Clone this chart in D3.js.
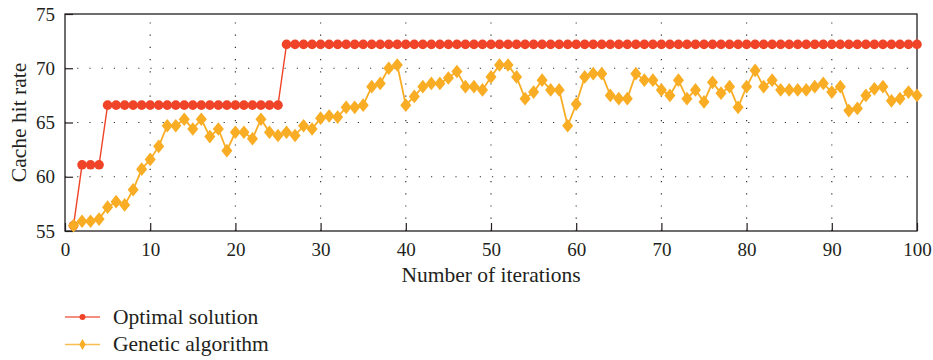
<!DOCTYPE html>
<html>
<head>
<meta charset="utf-8">
<script src="https://cdn.jsdelivr.net/npm/d3@7"></script>
<style>
  body { margin: 0; background: #fff; }
</style>
</head>
<body>
<div class="chart"></div>
<script>
// values
const optimal = [
  55.5, 61.1, 61.1, 61.1, 66.6, 66.6, 66.6, 66.6, 66.6, 66.6,
  66.6, 66.6, 66.6, 66.6, 66.6, 66.6, 66.6, 66.6, 66.6, 66.6,
  66.6, 66.6, 66.6, 66.6, 66.6, 72.2, 72.2, 72.2, 72.2, 72.2,
  72.2, 72.2, 72.2, 72.2, 72.2, 72.2, 72.2, 72.2, 72.2, 72.2,
  72.2, 72.2, 72.2, 72.2, 72.2, 72.2, 72.2, 72.2, 72.2, 72.2,
  72.2, 72.2, 72.2, 72.2, 72.2, 72.2, 72.2, 72.2, 72.2, 72.2,
  72.2, 72.2, 72.2, 72.2, 72.2, 72.2, 72.2, 72.2, 72.2, 72.2,
  72.2, 72.2, 72.2, 72.2, 72.2, 72.2, 72.2, 72.2, 72.2, 72.2,
  72.2, 72.2, 72.2, 72.2, 72.2, 72.2, 72.2, 72.2, 72.2, 72.2,
  72.2, 72.2, 72.2, 72.2, 72.2, 72.2, 72.2, 72.2, 72.2, 72.2
];
const genetic = [
  55.5, 55.9, 55.9, 56.1, 57.2, 57.7, 57.4, 58.8, 60.7, 61.6,
  62.8, 64.7, 64.7, 65.3, 64.4, 65.3, 63.7, 64.4, 62.4, 64.1,
  64.1, 63.5, 65.3, 64.1, 63.8, 64.1, 63.8, 64.7, 64.4, 65.4,
  65.6, 65.5, 66.4, 66.4, 66.6, 68.3, 68.6, 70.0, 70.3, 66.6,
  67.4, 68.3, 68.6, 68.6, 69.1, 69.7, 68.3, 68.3, 68.0, 69.2,
  70.3, 70.3, 69.2, 67.2, 67.8, 68.9, 68.0, 68.0, 64.7, 66.7,
  69.2, 69.5, 69.5, 67.5, 67.2, 67.2, 69.5, 68.9, 68.9, 68.0,
  67.5, 68.9, 67.2, 68.0, 66.9, 68.7, 67.7, 68.3, 66.4, 68.3,
  69.8, 68.3, 68.9, 68.0, 68.0, 68.0, 68.0, 68.3, 68.6, 67.8,
  68.3, 66.1, 66.3, 67.5, 68.1, 68.3, 67.0, 67.2, 67.8, 67.5
];
const xTicks = [0, 10, 20, 30, 40, 50, 60, 70, 80, 90, 100];
const yTicks = [55, 60, 65, 70, 75];
const seriesNames = ["Optimal solution", "Genetic algorithm"];
const colors = ["#ef4428", "#f9ad24"];

const serif = '"Liberation Serif"';
const ink = "#231f20";

const width = 933;
const height = 360;
const margin = {top: 14, right: 16, bottom: 129, left: 65};

const svg = d3.select(".chart")
    .append("svg")
    .attr("width", width)
    .attr("height", height);

const x = d3.scaleLinear().domain([0, 100]).range([margin.left, width - margin.right]);
const y = d3.scaleLinear().domain([55, 75]).range([height - margin.bottom, margin.top]);

// dotted grid
const grid = svg.append("g")
    .attr("stroke", "#333")
    .attr("stroke-width", 1.2)
    .attr("stroke-dasharray", "1.2,11");
grid.selectAll("line.v")
    .data(xTicks.slice(1, -1))
    .enter().append("line")
    .attr("class", "v")
    .attr("x1", d => x(d)).attr("x2", d => x(d))
    .attr("y1", y(55)).attr("y2", y(75));
grid.selectAll("line.h")
    .data(yTicks.slice(1, -1))
    .enter().append("line")
    .attr("class", "h")
    .attr("x1", x(0)).attr("x2", x(100))
    .attr("y1", d => y(d)).attr("y2", d => y(d));

// axes with inward ticks
const xAxis = svg.append("g")
    .attr("transform", `translate(0,${y(55)})`)
    .call(d3.axisBottom(x).tickValues(xTicks).tickSizeInner(-8).tickSizeOuter(0).tickPadding(12));
const yAxis = svg.append("g")
    .attr("transform", `translate(${x(0)},0)`)
    .call(d3.axisLeft(y).tickValues(yTicks).tickSizeInner(-8).tickSizeOuter(0).tickPadding(10));
[xAxis, yAxis].forEach(a => {
    a.attr("font-family", "Liberation Serif").attr("font-size", 19);
    a.select(".domain").remove();
    a.selectAll("line").attr("stroke", ink).attr("stroke-width", 1.2);
    a.selectAll("text")
        .style("font-family", serif)
        .style("font-size", "19px")
        .attr("fill", ink);
});
xAxis.selectAll("text").attr("dy", "0.71em");

// frame
svg.append("rect")
    .attr("x", x(0)).attr("y", y(75))
    .attr("width", x(100) - x(0)).attr("height", y(55) - y(75))
    .attr("fill", "none")
    .attr("stroke", ink)
    .attr("stroke-width", 1.3);

const line = d3.line()
    .x((d, i) => x(i + 1))
    .y(d => y(d));

// Optimal solution
svg.append("path")
    .datum(optimal)
    .attr("fill", "none")
    .attr("stroke", colors[0])
    .attr("stroke-width", 1.4)
    .attr("d", line);
svg.selectAll("circle.opt")
    .data(optimal)
    .enter().append("circle")
    .attr("class", "opt")
    .attr("cx", (d, i) => x(i + 1))
    .attr("cy", d => y(d))
    .attr("r", 4.8)
    .attr("fill", colors[0]);

// Genetic algorithm
svg.append("path")
    .datum(genetic)
    .attr("fill", "none")
    .attr("stroke", colors[1])
    .attr("stroke-width", 1.8)
    .attr("d", line);
const diamond = d3.symbol().type(d3.symbolDiamond).size(54);
svg.selectAll("path.ga")
    .data(genetic)
    .enter().append("path")
    .attr("class", "ga")
    .attr("transform", (d, i) => `translate(${x(i + 1)},${y(d)}) scale(1.4,1)`)
    .attr("d", diamond)
    .attr("fill", colors[1]);

// axis titles
svg.append("text")
    .attr("x", (x(0) + x(100)) / 2)
    .attr("y", 282)
    .attr("text-anchor", "middle")
    .attr("fill", ink)
    .style("font-family", serif)
    .style("font-size", "21.5px")
    .text("Number of iterations");
svg.append("text")
    .attr("transform", `translate(26,${(y(55) + y(75)) / 2}) rotate(-90)`)
    .attr("text-anchor", "middle")
    .attr("fill", ink)
    .style("font-family", serif)
    .style("font-size", "21.5px")
    .text("Cache hit rate");

// legend
const legend = svg.selectAll("g.legend")
    .data(seriesNames)
    .enter().append("g")
    .attr("class", "legend")
    .attr("transform", (d, i) => `translate(65,${317 + i * 27.5})`);
legend.append("line")
    .attr("x1", 0).attr("x2", 35)
    .attr("stroke", (d, i) => colors[i])
    .attr("stroke-opacity", 0.8)
    .attr("stroke-width", 1.5);
legend.append("path")
    .attr("transform", "translate(17.5,0)")
    .attr("d", (d, i) => i === 0
        ? d3.symbol().type(d3.symbolCircle).size(28)()
        : d3.symbol().type(d3.symbolDiamond).size(36)())
    .attr("fill", (d, i) => colors[i]);
legend.append("text")
    .attr("x", 48)
    .attr("y", 6.5)
    .attr("fill", ink)
    .style("font-family", serif)
    .style("font-size", "21.5px")
    .text(d => d);
</script>
</body>
</html>
